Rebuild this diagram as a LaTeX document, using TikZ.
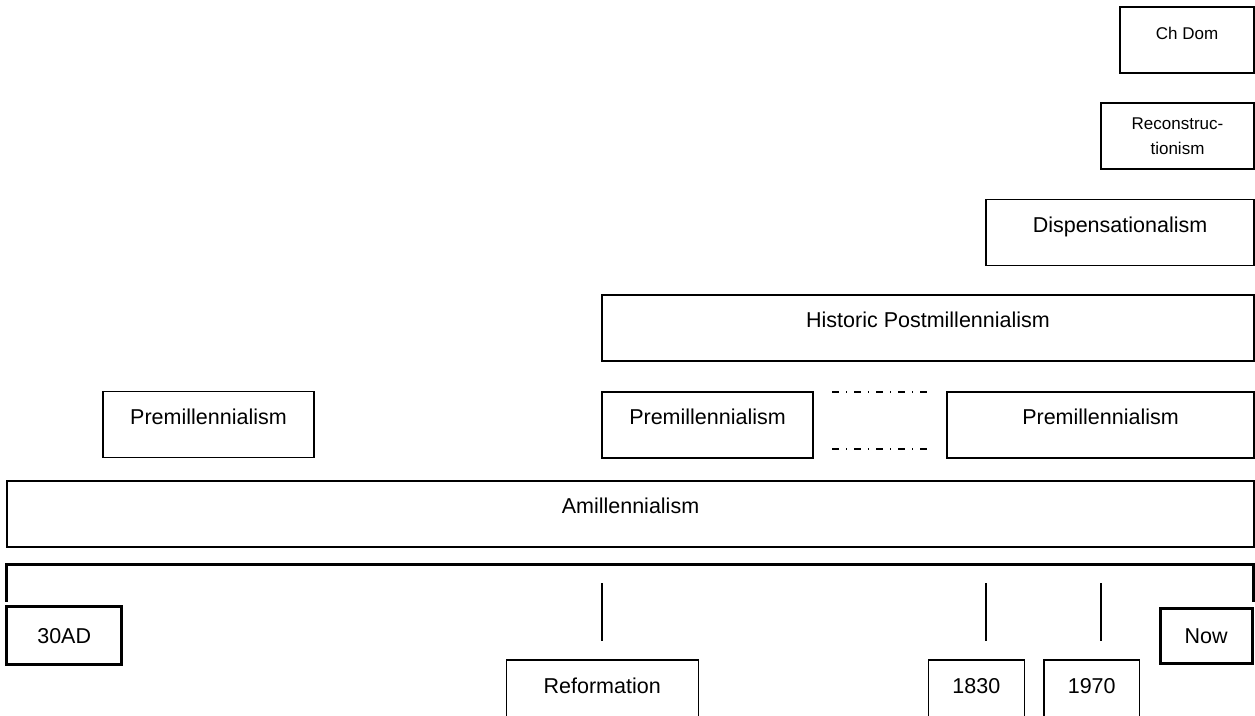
\documentclass[tikz,border=0pt]{standalone}
\usepackage{fontspec}
\setmainfont{Liberation Sans}
\usetikzlibrary{positioning}
\tikzset{movement/.style = {draw, rectangle, line width = 1.3pt, inner sep = 0pt, outer sep = 0pt,
                            text height = 33pt, text depth = 33pt,
                            font = \fontsize{21.5}{26}\selectfont},
         movementtwo/.style = {draw, rectangle, line width = 1.3pt, inner sep = 0pt, outer sep = 0pt,
                               minimum height = 66pt, align = center,
                               font = \fontsize{17}{25}\selectfont},
         era/.style = {draw, rectangle, line width = 3pt, inner sep = 0pt, outer sep = 0pt,
                       text height = 15.5pt, text depth = 0pt,
                       font = \fontsize{21.5}{26}\selectfont},
         datebox/.style = {movement, anchor = north},
         tickline/.style = {line width = 1.5pt},
         timebar/.style = {line width = 3pt},
         overlap/.style = {line width = 1.3pt, dash pattern = on 7pt off 7pt on 1.3pt off 6.7pt}}

\begin{document}
\begin{tikzpicture}[x = 1pt, y = 1pt]
      \useasboundingbox (0, 0) rectangle (1255, 715);
      \clip (0, 0) rectangle (1255, 715);

      \node [movement, minimum width = 134pt, font = \fontsize{17}{25}\selectfont] (chdom) at (1187, 675) {Ch Dom};
      \node [movementtwo, minimum width = 153pt] (recon) at (1177.5, 579) {Reconstruc-\\tionism};
      \node [movement, minimum width = 268pt] (disp) at (1120, 482.5) {Dispensationalism};
      \node [movement, minimum width = 652pt] (postmill) at (928, 387) {Historic Postmillennialism};
      \node [movement, minimum width = 211pt] (premA) at (208.5, 290.5) {Premillennialism};
      \node [movement, minimum width = 211pt] (premB) at (707.5, 290) {Premillennialism};
      \node [movement, minimum width = 307pt] (premC) at (1100.5, 290) {Premillennialism};
      \node [movement, minimum width = 1247pt] (amill) at (630.5, 201) {Amillennialism};

      \node [era, minimum width = 115pt, minimum height = 57.6pt] (start) at (64.2, 79.5) {30AD};
      \node [era, minimum width = 92.3pt, minimum height = 55pt] (now) at (1206.2, 79.2) {Now};
      \node [datebox, minimum width = 192pt] (reform) at (602.2, 55) {Reformation};
      \node [datebox, minimum width = 96pt] (y1830) at (976.3, 55) {1830};
      \node [datebox, minimum width = 95.3pt] (y1970) at (1091.7, 55) {1970};

      \draw [overlap] ([xshift = 19pt]premB.north east) -- ([xshift = -20pt]premC.north west);
      \draw [overlap] ([shift = {(19pt, 9pt)}]premB.south east) -- ([shift = {(-20pt, 9pt)}]premC.south west);

      \draw [timebar] ([yshift = 5pt]start.north west) -- ++(0, 37.4) -| ([shift = {(1pt, 6.6pt)}]now.north east);

      \coordinate (tickhi) at (0, 132);
      \coordinate (ticklo) at (0, 74);
      \draw [tickline] (postmill.west |- tickhi) -- (postmill.west |- ticklo);
      \draw [tickline] (disp.west |- tickhi) -- (disp.west |- ticklo);
      \draw [tickline] (recon.west |- tickhi) -- (recon.west |- ticklo);
    \end{tikzpicture}
\end{document}
